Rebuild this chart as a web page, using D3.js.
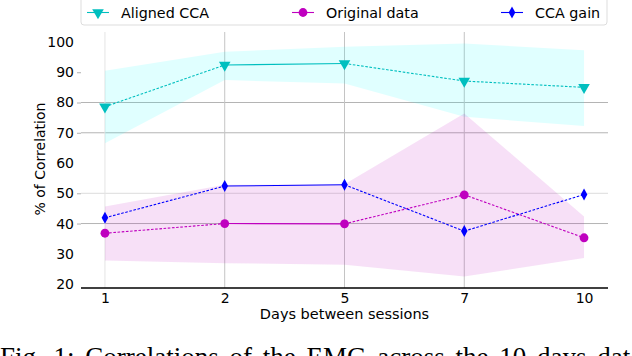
<!DOCTYPE html>
<html><head><meta charset="utf-8">
<script src="https://cdn.jsdelivr.net/npm/d3@7"></script>
<style>
html,body{margin:0;padding:0;background:#fff;overflow:hidden;}
svg{display:block;}
text{font-family:"DejaVu Sans",sans-serif;}
text.caption{font-family:"Liberation Serif","Times New Roman",serif;}
</style></head>
<body>
<svg id="chart" width="632" height="356"></svg>
<script>
// ---- data ----
const days = ["1", "2", "5", "7", "10"];
const yTicks = [20, 30, 40, 50, 60, 70, 80, 90, 100];

const alignedMean = [78.6, 92.4, 92.9, 87.1, 85.0];
const alignedLow  = [66.5, 87.4, 86.3, 75.3, 72.2];
const alignedHigh = [90.5, 96.8, 98.4, 99.5, 97.3];

const originalMean = [36.8, 40.0, 39.9, 49.5, 35.3];
const originalLow  = [27.8, 26.9, 26.4, 22.5, 28.6];
const originalHigh = [45.6, 52.8, 53.0, 76.4, 42.3];

const gainMean = [41.9, 52.4, 52.8, 37.5, 49.6];

const seriesNames = ["Aligned CCA", "Original data", "CCA gain"];
const caption = "Fig. 1: Correlations of the EMG across the 10 days data";

// ---- layout ----
const svg = d3.select("#chart");
const pLeft = 81, pRight = 608, pTop = 32, pBottom = 288;
const x = d3.scalePoint().domain(days).range([pLeft, pRight]).padding(0.2);
const y = d3.scaleLinear().domain([18.7, 103.3]).range([pBottom, pTop]);

const cCyan = "#00bfbf", cMag = "#bf00bf", cBlue = "#0000ff";
const segDash = ["2.6,1.6", null, "2.6,1.6", "2.6,1.6"];

// grid (visibility as seen in the reference)
const hGridColor = {40: "#b4b4b4", 50: "#dcdcdc", 70: "#b4b4b4", 80: "#b4b4b4"};
const vGridColor = {"1": "#e4e4e4", "2": "#c4c4c4", "5": "#c4c4c4", "7": "#c4c4c4"};
const gGrid = svg.append("g");
yTicks.forEach(t => {
  if (hGridColor[t]) gGrid.append("line").attr("x1", pLeft).attr("x2", pRight)
    .attr("y1", y(t)).attr("y2", y(t)).attr("stroke", hGridColor[t]).attr("stroke-width", 1);
});
days.forEach(d => {
  if (vGridColor[d]) gGrid.append("line").attr("x1", x(d)).attr("x2", x(d))
    .attr("y1", pTop).attr("y2", pBottom).attr("stroke", vGridColor[d]).attr("stroke-width", 1);
});

// bands
function band(lo, hi, col) {
  const area = d3.area().x((d, i) => x(days[i])).y0((d, i) => y(lo[i])).y1((d, i) => y(hi[i]));
  svg.append("path").datum(lo).attr("d", area).attr("fill", col).attr("fill-opacity", 0.12);
}
band(alignedLow, alignedHigh, "#00ffff");
band(originalLow, originalHigh, cMag);

// y axis ticks and labels
const yAxis = d3.axisLeft(y).tickValues(yTicks).tickSize(4).tickPadding(3).tickFormat(d3.format("d"));
const gy = svg.append("g").attr("transform", `translate(${pLeft},0)`).call(yAxis);
gy.select(".domain").remove();
gy.selectAll(".tick line").attr("stroke", "#b0b0b0")
  .attr("stroke-opacity", d => (hGridColor[d] || d === 90) ? 1 : 0);
gy.selectAll(".tick text").attr("font-size", 14).attr("fill", "#000");

// x axis
const xAxis = d3.axisBottom(x).tickSize(0).tickPadding(5);
const gx = svg.append("g").attr("transform", `translate(0,${pBottom})`).call(xAxis);
gx.select(".domain").attr("stroke", "#000").attr("stroke-width", 1.5).attr("d", `M${pLeft},0H${pRight}`);
gx.selectAll(".tick text").attr("font-size", 14).attr("fill", "#000");

// lines
function lines(vals, col) {
  for (let i = 0; i < vals.length - 1; i++) {
    svg.append("line")
      .attr("x1", x(days[i])).attr("y1", y(vals[i]))
      .attr("x2", x(days[i + 1])).attr("y2", y(vals[i + 1]))
      .attr("stroke", col).attr("stroke-width", 1.1)
      .attr("stroke-dasharray", segDash[i]);
  }
}
lines(alignedMean, cCyan);
lines(originalMean, cMag);
lines(gainMean, cBlue);

// markers
const triDown = d3.symbol().type(d3.symbolTriangle).size(58);
const diamond = "M0,-6L3.3,0L0,6L-3.3,0Z";
function drawMarker(g, col, kind) {
  if (kind === "tri") g.append("path").attr("d", triDown()).attr("transform", "rotate(180)").attr("fill", col);
  else if (kind === "circle") g.append("circle").attr("r", 4.4).attr("fill", col);
  else g.append("path").attr("d", diamond).attr("fill", col);
}
function markers(vals, col, kind) {
  vals.forEach((v, i) => {
    const g = svg.append("g").attr("transform", `translate(${x(days[i])},${y(v)})`);
    drawMarker(g, col, kind);
  });
}
markers(alignedMean, cCyan, "tri");
markers(originalMean, cMag, "circle");
markers(gainMean, cBlue, "diamond");

// y label
svg.append("text").attr("transform", "translate(45,159) rotate(-90)")
  .attr("text-anchor", "middle").attr("font-size", 14).text("% of Correlation");
// x label
svg.append("text").attr("x", 344.5).attr("y", 319).attr("text-anchor", "middle")
  .attr("font-size", 14.5).text("Days between sessions");

// legend
svg.append("rect").attr("x", pLeft).attr("y", -6).attr("width", pRight - pLeft - 1).attr("height", 31)
  .attr("rx", 3).attr("fill", "#fff").attr("fill-opacity", 0.85).attr("stroke", "#dddddd");
const legX = [87, 292, 501];
const legCols = [cCyan, cMag, cBlue];
const legKinds = ["tri", "circle", "diamond"];
seriesNames.forEach((n, i) => {
  const g = svg.append("g");
  g.append("line").attr("x1", legX[i]).attr("x2", legX[i] + 22).attr("y1", 12.5).attr("y2", 12.5)
    .attr("stroke", legCols[i]).attr("stroke-width", 1.1);
  drawMarker(g.append("g").attr("transform", `translate(${legX[i] + 11},12.5)`), legCols[i], legKinds[i]);
  g.append("text").attr("x", legX[i] + 34).attr("y", 17.5).attr("font-size", 14.3).text(n);
});

// caption (cut by the bottom edge)
svg.append("text").attr("class", "caption").attr("x", 0).attr("y", 366).attr("font-size", 27)
  .attr("word-spacing", 4).text(caption);
</script>
</body></html>
